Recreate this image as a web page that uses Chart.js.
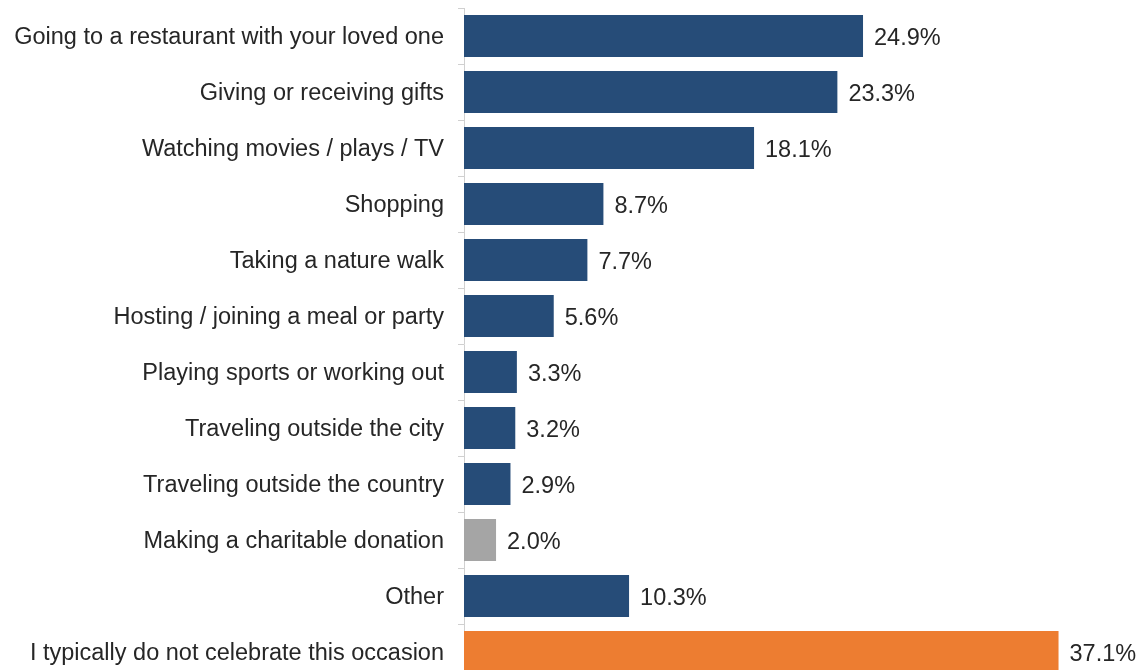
<!DOCTYPE html>
<html>
<head>
<meta charset="utf-8">
<script src="https://cdn.jsdelivr.net/npm/chart.js@4/dist/chart.umd.min.js"></script>
<style>
html,body{margin:0;padding:0;background:#fff;overflow:hidden;}
#wrap{width:1139px;height:690px;position:relative;}
</style>
</head>
<body>
<div id="wrap"><canvas id="c" width="1139" height="690"></canvas></div>
<script>
const categories = [
  "Going to a restaurant with your loved one",
  "Giving or receiving gifts",
  "Watching movies / plays / TV",
  "Shopping",
  "Taking a nature walk",
  "Hosting / joining a meal or party",
  "Playing sports or working out",
  "Traveling outside the city",
  "Traveling outside the country",
  "Making a charitable donation",
  "Other",
  "I typically do not celebrate this occasion"
];
const values = [24.9, 23.3, 18.1, 8.7, 7.7, 5.6, 3.3, 3.2, 2.9, 2.0, 10.3, 37.1];
const barColors = ["#264C78","#264C78","#264C78","#264C78","#264C78","#264C78","#264C78","#264C78","#264C78","#A5A5A5","#264C78","#ED7D31"];

const valueLabels = {
  id: 'valueLabels',
  afterDatasetsDraw(chart) {
    const ctx = chart.ctx;
    const meta = chart.getDatasetMeta(0);
    ctx.save();
    ctx.font = '23.5px "Liberation Sans", Arial, sans-serif';
    ctx.fillStyle = '#262626';
    ctx.textAlign = 'left';
    ctx.textBaseline = 'middle';
    meta.data.forEach((bar, i) => {
      ctx.fillText(values[i].toFixed(1) + '%', bar.x + 11, bar.y + 3);
    });
    ctx.restore();
  }
};

new Chart(document.getElementById('c'), {
  type: 'bar',
  data: {
    labels: categories,
    datasets: [{
      data: values,
      backgroundColor: barColors,
      borderWidth: 0,
      categoryPercentage: 1.0,
      barPercentage: 0.75
    }]
  },
  options: {
    indexAxis: 'y',
    responsive: false,
    animation: false,
    layout: { padding: { top: 8, bottom: 10, right: 34, left: 0 } },
    plugins: { legend: { display: false }, tooltip: { enabled: false } },
    scales: {
      x: { display: false, min: 0, max: 40 },
      y: {
        afterFit(scale) { scale.width = 464; scale.paddingTop = 0; scale.paddingBottom = 0; },
        border: { display: true, color: '#D0D0D0', width: 1 },
        grid: { display: true, drawOnChartArea: false, drawTicks: true, tickLength: 6, color: '#D0D0D0', offset: true },
        ticks: {
          padding: 14,
          labelOffset: 2,
          color: '#262626',
          font: { family: '"Liberation Sans", Arial, sans-serif', size: 23.5, lineHeight: 1.0 },
          autoSkip: false
        }
      }
    }
  },
  plugins: [valueLabels]
});
</script>
</body>
</html>
